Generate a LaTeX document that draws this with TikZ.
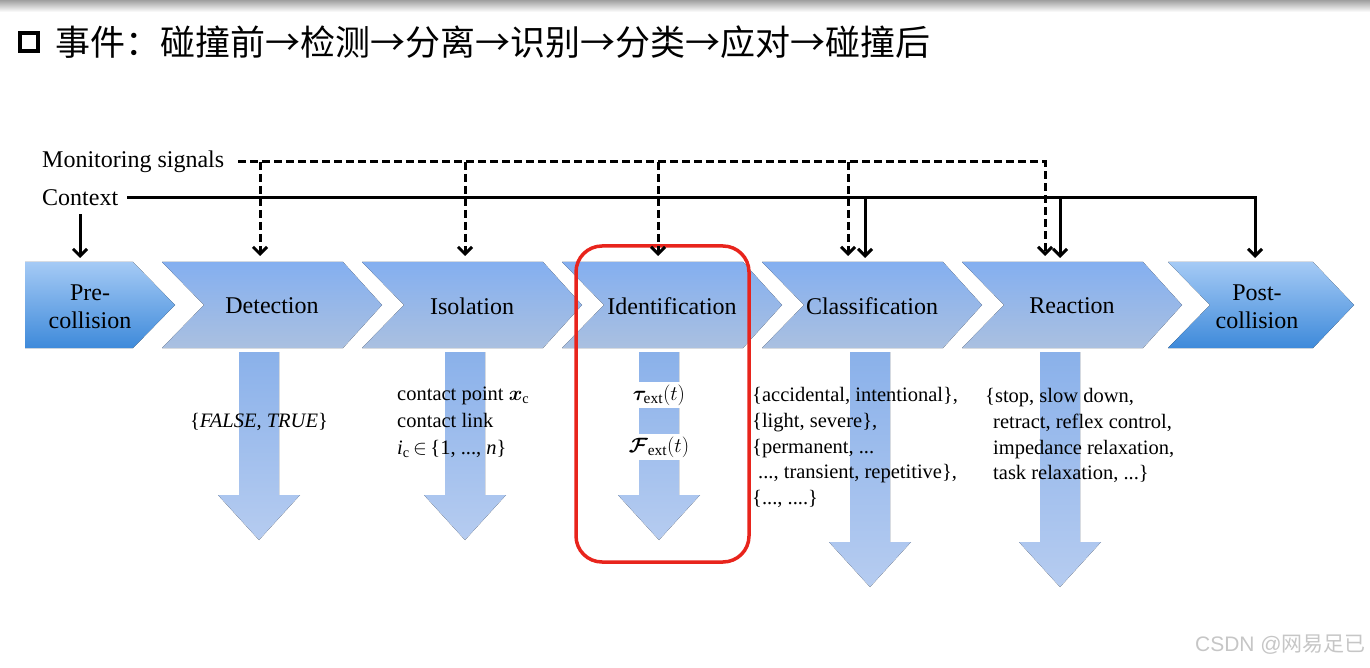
\documentclass[tikz,border=0pt]{standalone}
\usepackage{fontspec}
\usepackage{bm}
\setmainfont{Liberation Serif}
\newfontfamily\cjk{Noto Sans CJK SC}
\newfontfamily\wmsans{Liberation Sans}
\usetikzlibrary{arrows.meta,positioning}
\definecolor{chevtop}{RGB}{132,175,240}
\definecolor{chevbot}{RGB}{170,192,224}
\definecolor{endtop}{RGB}{165,202,245}
\definecolor{endbot}{RGB}{62,138,218}
\definecolor{arrtop}{RGB}{138,177,234}
\definecolor{arrbot}{RGB}{182,204,240}
\definecolor{boxred}{RGB}{232,36,28}
\begin{document}
\begin{tikzpicture}[x=1pt,y=-1pt,
    stage/.style={font=\fontsize{24}{28}\selectfont, align=center, inner sep=0pt},
    sigtext/.style={font=\fontsize{24}{28}\selectfont, anchor=west, inner sep=0pt},
    note/.style={font=\fontsize{20.5}{25.8}\selectfont, align=left, anchor=north west, inner sep=0pt},
    sig/.style={line width=3pt, dash pattern=on 8pt off 4pt, -{Straight Barb[length=7pt,width=14pt]}},
    ctxl/.style={line width=3pt, -{Straight Barb[length=7pt,width=14pt]}},
    midchev/.style={top color=chevtop, bottom color=chevbot},
    endchev/.style={top color=endtop, bottom color=endbot},
    bigarrow/.style={top color=arrtop, bottom color=arrbot}]
    \useasboundingbox (0,0) rectangle (1370,668);
    \shade[top color=gray!75, bottom color=white] (0,0) rectangle (1370,12);

    % title
    \draw[line width=4.5pt] (20,33) rectangle (38,51);
    \node[anchor=west, font=\cjk\fontsize{35}{40}\selectfont, inner sep=0pt] (title) at (55,42)
        {事件：碰撞前→检测→分离→识别→分类→应对→碰撞后};

    % stages
    \fill[endchev] (25,262) -- (133,262) -- (175,305) -- (133,348) -- (25,348) -- cycle;
    \foreach \x in {162,362,562,762,962}
        \fill[midchev] (\x,262) -- ++(181,0) -- ++(39,43) -- ++(-39,43) -- ++(-181,0) -- ++(42,-43) -- cycle;
    \fill[endchev] (1168,262) -- (1313,262) -- (1354,305) -- (1313,348) -- (1168,348) -- (1210,305) -- cycle;

    \node[stage] (pre) at (90,307) {Pre-\\collision};
    \node[stage] (det) at (272,306) {Detection};
    \node[stage] (iso) at (472,306) {Isolation};
    \node[stage] (ide) at (672,306) {Identification};
    \node[stage] (cla) at (872,306) {Classification};
    \node[stage] (rea) at (1072,306) {Reaction};
    \node[stage] (post) at (1257,307) {Post-\\collision};

    % outputs
    \foreach \x/\h in {259/495,465/495,659/495,870/542,1060/542}
        \fill[bigarrow] (\x-20,352) -- (\x+20,352) -- (\x+20,\h) -- (\x+41,\h) -- (\x,\h+45) -- (\x-41,\h) -- (\x-20,\h) -- cycle;

    \node[note, anchor=center] (detout) at (259,422) {\{\textit{FALSE}, \textit{TRUE}\}};
    \node[note, font=\fontsize{20.5}{26.8}\selectfont] (isoout) at (397,387)
        {contact point $\bm{x}_\mathrm{c}$\\contact link\\\textit{i}\textsubscript{c}\,$\in$\,\{1, ..., \textit{n}\}};
    \node[note, anchor=center, font=\fontsize{22}{26}\selectfont, fill=white, inner xsep=2pt, inner ysep=3pt] (tauout) at (659,395) {$\bm{\tau}_{\mathrm{ext}}(t)$};
    \node[note, anchor=center, font=\fontsize{22}{26}\selectfont, fill=white, inner xsep=2pt, inner ysep=3pt] (fout) at (659,447) {$\bm{\mathcal{F}}_{\mathrm{ext}}(t)$};
    \node[note] (claout) at (752,387)
        {\{accidental, intentional\},\\\{light, severe\},\\\{permanent, ...\\\hspace*{6pt}..., transient, repetitive\},\\\{..., ....\}};
    \node[note] (reaout) at (985,388)
        {\{stop, slow down,\\\hspace*{8pt}retract, reflex control,\\\hspace*{8pt}impedance relaxation,\\\hspace*{8pt}task relaxation, ...\}};

    \draw[boxred, line width=3.5pt, rounded corners=26pt] (576,246) rectangle (749,562);

    % inputs
    \node[sigtext] (mon) at (42,162) {Monitoring signals};
    \node[sigtext] (ctx) at (42,198) {Context};
    \coordinate (det-m) at (260,256);
    \coordinate (iso-m) at (465,256);
    \coordinate (ide-m) at (658,256);
    \coordinate (cla-m) at (848,256);
    \coordinate (rea-m) at (1045,256);
    \coordinate (pre-c) at (80,258);
    \coordinate (cla-c) at (865,258);
    \coordinate (rea-c) at (1060,258);
    \coordinate (post-c) at (1255,258);

    \draw[sig] ([xshift=14pt]mon.east) -| (rea-m);
    \foreach \n in {det,iso,ide,cla}
        \draw[sig] (\n-m |- mon.east) -- (\n-m);
    \draw[ctxl] ([xshift=9pt]ctx.east) -| (post-c);
    \foreach \n in {cla,rea}
        \draw[ctxl] (\n-c |- ctx.east) -- (\n-c);
    \draw[ctxl] ([yshift=-8pt]ctx.south -| pre-c) -- (pre-c);

    \node[anchor=east, font=\fontsize{21}{24}\selectfont, text=gray!45, inner sep=0pt] (wm) at (1366,645)
        {{\wmsans CSDN @}{\cjk 网易足已}};
\end{tikzpicture}
\end{document}
